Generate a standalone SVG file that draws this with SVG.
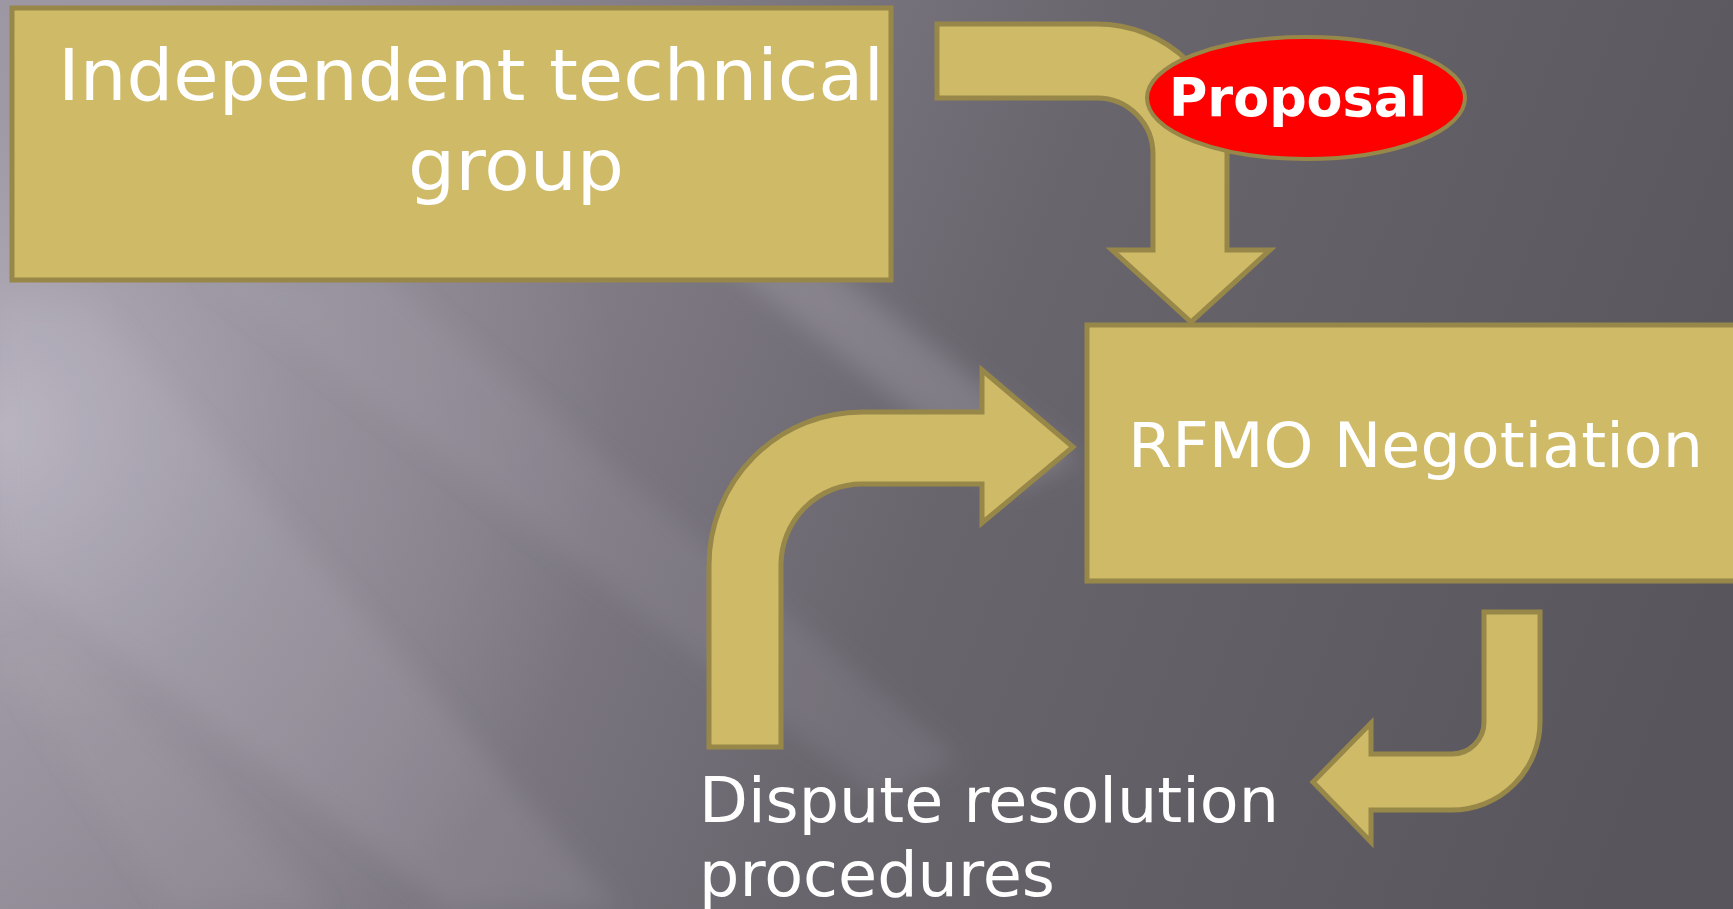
<svg xmlns="http://www.w3.org/2000/svg" width="1733" height="909" viewBox="0 0 1733 909">
  <defs>
    <linearGradient id="bgGrad" x1="0" y1="0.4" x2="1" y2="0.6">
      <stop offset="0" stop-color="#98939e"/>
      <stop offset="0.3" stop-color="#817c86"/>
      <stop offset="0.55" stop-color="#69656d"/>
      <stop offset="1" stop-color="#59555c"/>
    </linearGradient>
    <radialGradient id="glow" cx="0" cy="430" r="620" gradientUnits="userSpaceOnUse">
      <stop offset="0" stop-color="#bdb8c4" stop-opacity="0.85"/>
      <stop offset="0.5" stop-color="#aaa5b1" stop-opacity="0.35"/>
      <stop offset="1" stop-color="#aaa5b1" stop-opacity="0"/>
    </radialGradient>
    <filter id="soft" x="-20%" y="-20%" width="140%" height="140%">
      <feGaussianBlur stdDeviation="12"/>
    </filter>
    <style>
      .shape { fill: #cfba67; stroke: #978748; stroke-width: 5; stroke-linejoin: miter; }
      .label { font-family: "DejaVu Sans", Verdana, sans-serif; fill: #ffffff; }
    </style>
  </defs>

  <!-- background -->
  <rect width="1733" height="909" fill="url(#bgGrad)"/>
  <rect width="1733" height="909" fill="url(#glow)"/>
  <g filter="url(#soft)">
    <polygon points="0,300 90,300 620,909 450,909 0,560" fill="#c4bfca" opacity="0.14"/>
    <polygon points="200,270 380,270 960,760 880,800" fill="#b9b4bf" opacity="0.14"/>
    <polygon points="720,260 820,260 1080,460 1010,490" fill="#b3aeb8" opacity="0.3"/>
    <polygon points="0,660 60,640 330,909 170,909" fill="#b3aeb8" opacity="0.12"/>
  </g>

  <!-- connectors -->
  <g id="connectors">
    <path id="arrow-down" class="shape" d="M937,24 H1097 A130,130 0 0 1 1227,154 V250 H1270 L1191,322 L1112,250 H1153 V154 A56,56 0 0 0 1097,98 H937 Z"/>
    <path id="arrow-up-right" class="shape" d="M709,747 V565 A153,153 0 0 1 862,412 H982 V370 L1073,447 L982,523 V484 H862 A81,81 0 0 0 781,565 V747 Z"/>
    <path id="arrow-down-left" class="shape" d="M1484,612 H1540 V722 A88,88 0 0 1 1452,810 H1371 V842 L1313,782 L1371,723 V754 H1452 A32,32 0 0 0 1484,722 Z"/>
  </g>

  <!-- Independent technical group -->
  <g id="node-technical-group">
    <rect class="shape" x="12" y="8" width="879" height="272"/>
    <text class="label" x="58" y="100" font-size="72" textLength="826" lengthAdjust="spacingAndGlyphs">Independent technical</text>
    <text class="label" x="408" y="190" font-size="72" textLength="216" lengthAdjust="spacingAndGlyphs">group</text>
  </g>

  <!-- Proposal -->
  <g id="node-proposal">
    <ellipse cx="1306" cy="98" rx="159" ry="61" fill="#ff0000" stroke="#978748" stroke-width="4"/>
    <text class="label" x="1298" y="116" font-size="54" font-weight="bold" text-anchor="middle" textLength="258" lengthAdjust="spacingAndGlyphs">Proposal</text>
  </g>

  <!-- RFMO Negotiation -->
  <g id="node-rfmo">
    <rect class="shape" x="1087" y="325" width="660" height="256"/>
    <text class="label" x="1128" y="467" font-size="63" textLength="575" lengthAdjust="spacingAndGlyphs">RFMO Negotiation</text>
  </g>

  <!-- Dispute resolution procedures -->
  <g id="node-dispute">
    <text class="label" x="699" y="822" font-size="63" textLength="580" lengthAdjust="spacingAndGlyphs">Dispute resolution</text>
    <text class="label" x="699" y="896" font-size="63" textLength="356" lengthAdjust="spacingAndGlyphs">procedures</text>
  </g>
</svg>
